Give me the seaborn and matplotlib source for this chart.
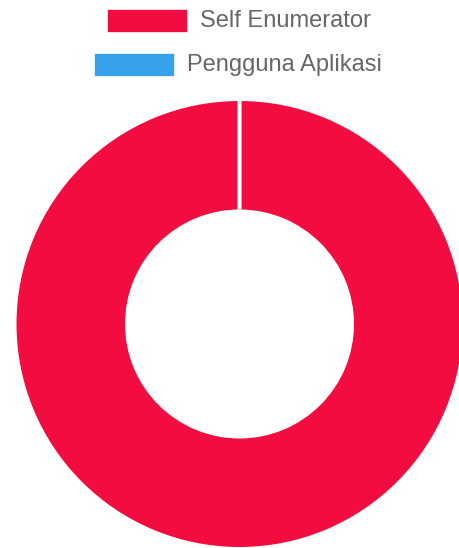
import matplotlib
matplotlib.use("Agg")
import matplotlib.pyplot as plt
import seaborn as sns
from matplotlib.patches import Rectangle

# ==============================
# DATA
# ==============================
labels = ["Self Enumerator", "Pengguna Aplikasi"]
values = [100, 0]
colors = ["#F20C3F", "#36A2EB"]

W, H = 459, 548

sns.set_theme(style="white")
plt.rcParams['font.family'] = ['Liberation Sans', 'DejaVu Sans']

fig = plt.figure(figsize=(W / 100, H / 100), dpi=100)

# ==============================
# DOUGHNUT
# ==============================
cx, cy, R = 239.5, 324.0, 223.0
ax = fig.add_axes([(cx - R) / W, (H - cy - R) / H, 2 * R / W, 2 * R / H])
wedges, _ = ax.pie(values, colors=colors, startangle=90, counterclock=False, radius=1,
                   wedgeprops=dict(width=1 - 114.5 / R, edgecolor="white", linewidth=3))
# only the empty slice keeps its white border (the separator at the top)
wedges[0].set_linewidth(0)
ax.set_xlim(-1, 1)
ax.set_ylim(-1, 1)
ax.set_aspect("equal")
ax.axis("off")

# ==============================
# LEGEND (centered rows, chart.js style)
# ==============================
legend_rows = [(107, 9, 200, 21), (94, 53, 187, 65)]
for (bx, by, tx, ty), lab, col in zip(legend_rows, labels, colors):
    fig.add_artist(Rectangle((bx / W, 1 - (by + 23) / H), 80 / W, 23 / H,
                             transform=fig.transFigure, facecolor=col,
                             edgecolor="white", linewidth=0.5))
    fig.text(tx / W, 1 - ty / H, lab, fontsize=17, color="#666666",
             ha="left", va="center")

fig.savefig("out.png", dpi=100)
